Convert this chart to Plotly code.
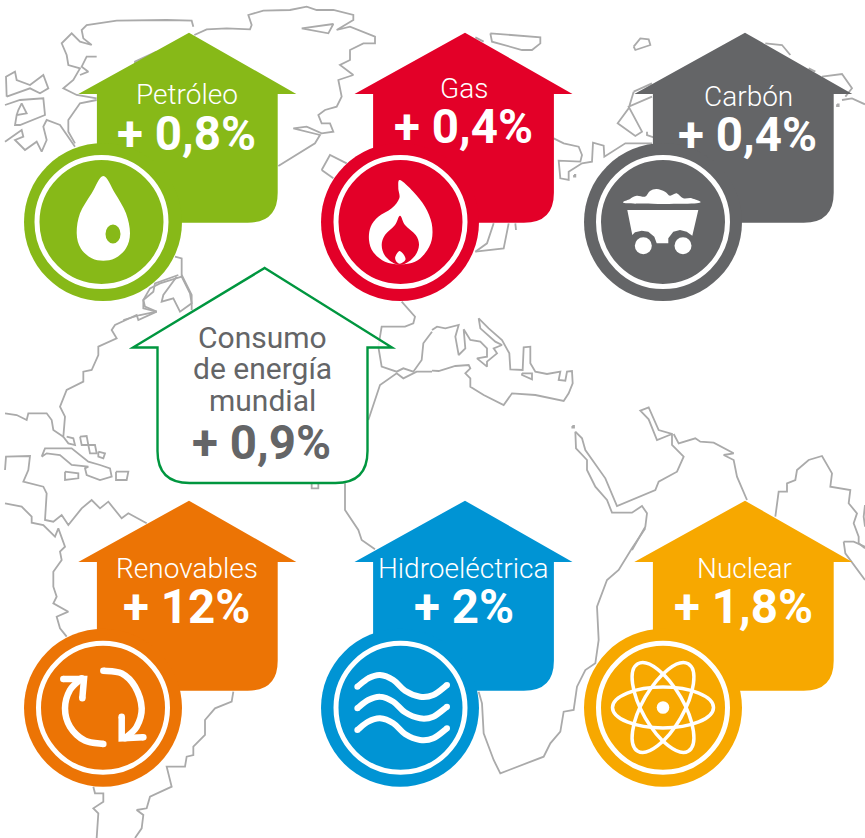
import math
import plotly.graph_objects as go

# ---- chart content ----
categories = ["Petróleo", "Gas", "Carbón", "Renovables", "Hidroeléctrica", "Nuclear"]
value_labels = ["+ 0,8%", "+ 0,4%", "+ 0,4%", "+ 12%", "+ 2%", "+ 1,8%"]
total_title = ["Consumo", "de energía", "mundial"]
total_value = "+ 0,9%"
colors = ["#87b918", "#e30028", "#646567", "#ec7405", "#0094d4", "#f7a800"]

# ---- house layout (page pixels) ----
peak_x = [189, 465, 745, 189, 465, 745]
body_x = [187.3, 463.5, 743.3, 187.3, 463.5, 743.3]
peak_y = [32.7, 32.7, 32.7, 500.7, 500.7, 500.7]
circle_x = [103, 400, 663, 103, 400, 663]
circle_y = [222, 222, 222, 707.8, 707.8, 707.8]
ring_x = [101.5, 400.5, 663, 103, 400.5, 663]
label_pos = [(187, 94), (464, 88), (748, 96), (187, 568), (463, 568), (744, 568)]
value_pos = [(186.5, 134), (463.5, 127), (747, 135), (186, 607), (464, 607), (743, 607)]

# ---- map outlines: (x offset, y offset, 3x-crop points) ----
map_lines = [
 (0, 0, [(583,105),(620,88),(680,85),(750,88),(755,75),(745,45),(790,32),(870,30),(920,20),(950,30),(1000,30),(1060,45),(1060,60),(1010,90),(1050,80),(1090,95),(1125,110),(1125,130),(1090,130),(1050,150),(1050,180),(1020,195),(1060,225),(1015,240),(1025,290),(1010,320),(975,330),(955,345),(965,370),(990,370),(1000,395),(965,400),(920,380),(880,385),(920,395),(960,405),(945,430),(880,470),(835,498)]),
 (0, 0, [(905,85),(1000,72),(985,100),(905,85)]),
 (0, 0, [(580,80),(575,62),(500,60),(350,62),(260,75),(245,90),(250,115),(275,135),(240,125),(215,100),(185,130),(200,165),(205,195),(240,205),(220,240),(190,265),(230,285),(290,295)]),
 (0, 0, [(290,170),(260,170),(245,200),(265,215),(240,225)]),
 (0, 0, [(290,300),(240,310),(205,360),(205,395),(225,430)]),
 (0, 0, [(470,155),(405,185),(405,195)]),
 (0, 0, [(20,290),(18,230),(45,215),(50,240),(90,255),(130,225),(145,265),(120,280),(90,265),(20,290)]),
 (0, 0, [(15,315),(60,300),(130,295),(135,345),(60,375),(45,375),(50,345),(80,340),(65,310),(55,330),(50,345)]),
 (0, 0, [(15,425),(50,400),(65,390),(70,410),(45,420),(75,450),(110,425),(125,455),(140,420),(130,380),(140,360),(180,375),(215,425),(225,440)]),
 (0, 0, [(525,770),(545,775),(545,830),(480,850),(450,865),(430,900),(430,925),(470,935),(420,945),(370,960)]),
 (0, 0, [(530,830),(490,885),(485,905),(520,895),(540,935),(575,910),(570,880),(545,830)]),
 (0, 0, [(965,510),(990,465),(1040,490)]),
 (0, 0, [(965,510),(1000,535)]),
 (0, 260, [(545,45),(575,105),(575,150)]),
 (0, 260, [(535,45),(465,70),(460,95),(430,120),(435,140),(470,155),(415,180),(410,165),(345,195),(335,210),(350,235),(295,260),(295,285),(275,330),(250,335),(250,365),(200,390),(180,440),(195,470),(190,530),(205,550),(225,555),(220,535),(200,530)]),
 (0, 260, [(15,460),(50,465),(80,480),(85,460),(140,460),(155,480),(160,510),(190,530)]),
 (0, 260, [(125,590),(135,565),(215,565),(265,605),(300,615),(330,625),(335,650),(300,660),(260,645),(255,625),(265,620),(215,615),(180,585),(140,580),(125,590)]),
 (0, 260, [(240,530),(260,528),(265,555),(245,555),(240,530)]),
 (0, 260, [(265,555),(285,555),(290,580),(270,580),(265,555)]),
 (0, 260, [(295,575),(315,580),(310,595),(295,590),(295,575)]),
 (0, 260, [(195,635),(235,640),(235,655),(195,660),(195,635)]),
 (0, 260, [(348,635),(385,635),(380,660),(348,660),(348,635)]),
 (0, 260, [(15,630),(18,590),(90,588),(85,630),(70,665),(130,680),(140,700),(135,780),(160,785),(185,765),(205,795),(245,745),(275,720),(300,745),(325,725),(365,775),(385,760),(440,790)]),
 (0, 500, [(15,10),(65,20),(95,50),(95,68),(130,75),(165,110),(175,85),(195,140),(180,155),(185,180),(160,215),(160,260),(170,290),(160,310),(205,335),(170,350),(180,385),(200,410)]),
 (0, 500, [(280,860),(285,880),(310,880),(310,905),(280,925),(295,940),(290,1014)]),
 (0, 500, [(700,575),(695,605),(645,625),(615,660),(615,705),(580,740),(580,765),(560,770),(555,800),(500,800),(515,860),(450,890),(440,925),(410,930),(430,945),(425,985),(405,1014)]),
 (0, 260, [(1035,670),(1035,750),(1075,810),(1085,840),(1125,868)]),
 (0, 260, [(935,670),(935,685),(955,685),(955,670)]),
 (0, 260, [(1205,125),(1245,170),(1240,190),(1215,200),(1145,200),(1135,260),(1145,320),(1190,335),(1210,325),(1240,335),(1265,300),(1270,250),(1296,215)]),
 (0, 260, [(1296,335),(1250,335),(1210,355),(1190,340),(1140,375),(1125,420),(1105,480)]),
 (432, 260, [(0,332),(20,333),(70,318),(110,315),(115,325),(100,340),(115,355),(115,380),(155,405),(215,435),(240,400),(310,405),(395,423),(410,400),(422,370),(420,333),(405,335),(400,362),(380,360),(385,335),(345,342),(310,335),(295,310),(295,260),(275,262),(272,330),(235,328),(232,280),(210,240),(170,205),(140,175),(145,205),(190,245),(210,255),(185,265),(195,280),(165,305),(165,320),(135,295),(165,290),(165,265),(145,245),(115,240),(95,208),(100,265),(80,285),(70,230),(80,195),(40,205),(15,200),(0,210)]),
 (432, 260, [(270,340),(300,340),(300,358),(270,345),(270,340)]),
 (432, 260, [(421,498),(426,498),(426,503),(421,503),(421,498)]),
 (432, 260, [(430,515),(450,535),(460,570),(520,655),(555,738),(620,710),(670,690),(680,665),(735,635),(755,590),(720,555),(720,522),(680,510),(650,442),(625,452),(650,478),(670,525),(675,540),(720,522)]),
 (432, 260, [(725,522),(740,550),(790,535),(805,545),(845,548),(905,580),(875,585),(905,600),(915,650),(945,720)]),
 (432, 260, [(430,515),(432,565),(465,600),(465,630),(490,680),(525,720),(540,758),(600,758),(630,738),(645,760),(640,800),(600,870)]),
 (432, 260, [(1030,770),(1040,695),(1065,695),(1065,670),(1090,660),(1095,630),(1130,600),(1170,588),(1200,640),(1195,680),(1255,690),(1250,730),(1275,760),(1265,790),(1280,830),(1280,850),(1299,865)]),
 (432, 260, [(1299,735),(1295,770),(1299,800)]),
 (432, 500, [(640,85),(600,145),(560,210),(525,240),(495,320),(500,420),(490,490),(460,510),(435,560),(425,630),(395,635),(385,695),(355,730),(335,770),(205,820),(185,780),(155,700),(150,610),(140,575)]),
 (432, 500, [(1235,125),(1265,125),(1299,140)]),
 (432, 500, [(1235,125),(1240,160),(1299,240)]),
 (432, 0, [(175,100),(325,112),(325,130),(300,150),(270,150),(180,125),(175,100)]),
 (432, 0, [(130,112),(155,125)]),
 (432, 0, [(605,140),(625,115),(650,118),(655,135),(610,150),(605,140)]),
 (432, 0, [(1000,130),(1050,135),(1075,165)]),
 (432, 0, [(1130,205),(1150,215)]),
 (432, 0, [(1170,230),(1230,222),(1260,265),(1240,290)]),
 (432, 0, [(1215,313),(1220,313),(1220,318),(1215,318),(1215,313)]),
 (432, 0, [(1230,300),(1260,295),(1299,313)]),
 (432, 0, [(605,275),(660,250)]),
 (432, 0, [(605,275),(590,325),(557,370),(610,408),(630,395),(590,320),(660,290)]),
 (432, 0, [(645,395),(645,405),(665,412)]),
 (432, 0, [(365,415),(395,430),(440,440),(450,465),(445,485),(380,482),(385,535),(410,540),(410,515),(450,490),(480,485),(483,428),(515,437),(517,470),(580,430),(660,430)]),
 (432, 0, [(426,525),(430,525),(430,530),(426,530),(426,525)]),
 (432, 0, [(130,755),(215,745),(230,670)]),
 (432, 0, [(130,755),(165,730),(185,670)]),
 (432, 0, [(250,670),(252,690)]),
]

# ---- icon outlines (3x-crop points) ----
DROP = [(310,528),(345,580),(378,640),(390,700),(378,745),(345,775),(310,782),(275,775),(242,745),(230,700),(240,640),(275,580)]
FLAME_OUT = [(150,45),(190,80),(225,125),(245,175),(245,225),(225,265),(195,290),(150,298),(105,290),(70,262),(57,225),(62,185),(85,155),(125,130),(148,100),(145,70)]
FLAME_IN = [(150,152),(165,180),(197,210),(207,240),(195,272),(165,296),(135,296),(105,272),(95,240),(105,210),(135,180)]
FLAME_SMALL = [(148,258),(162,270),(166,285),(150,296),(138,288),(136,275)]
COAL = [(38,85),(45,72),(65,62),(90,65),(105,48),(125,42),(150,50),(165,62),(185,55),(205,70),(230,70),(245,85)]
CART = [(37,105),(250,105),(232,182),(215,170),(195,165),(175,170),(160,190),(160,205),(125,205),(118,185),(100,170),(80,167),(60,172),(52,180)]
ARC_R = [(310,512),(365,520),(405,560),(425,625),(410,680),(375,715)]
HEAD_R = [(365,650),(365,715),(430,712)]
ARC_L = [(310,732),(255,722),(210,680),(195,625),(210,570),(245,535)]
HEAD_L = [(190,537),(252,537),(247,595)]
WAVE = [(1072,560),(1105,535),(1140,525),(1180,540),(1215,572),(1260,590),(1300,585),(1341,555)]


def crop(pts, ox, oy):
    return [(ox + x / 3, oy + y / 3) for x, y in pts]


def straight(pts, close=False):
    s = "M" + " L".join(f"{x:.1f},{y:.1f}" for x, y in pts)
    return s + (" Z" if close else "")


def smooth(pts, close=True):
    """Catmull-Rom run through the traced points, written as cubic segments."""
    n = len(pts)
    s = f"M{pts[0][0]:.1f},{pts[0][1]:.1f}"
    last = n if close else n - 1
    for i in range(last):
        if close:
            p0, p1, p2, p3 = pts[(i - 1) % n], pts[i], pts[(i + 1) % n], pts[(i + 2) % n]
        else:
            p0, p1, p2, p3 = pts[max(i - 1, 0)], pts[i], pts[i + 1], pts[min(i + 2, n - 1)]
        c1 = (p1[0] + (p2[0] - p0[0]) / 6, p1[1] + (p2[1] - p0[1]) / 6)
        c2 = (p2[0] - (p3[0] - p1[0]) / 6, p2[1] - (p3[1] - p1[1]) / 6)
        s += f" C{c1[0]:.1f},{c1[1]:.1f} {c2[0]:.1f},{c2[1]:.1f} {p2[0]:.1f},{p2[1]:.1f}"
    return s + (" Z" if close else "")


def ellipse(cx, cy, a, b, deg):
    k = 0.5523
    t = math.radians(deg)
    ro = lambda x, y: (cx + x * math.cos(t) - y * math.sin(t), cy + x * math.sin(t) + y * math.cos(t))
    p = [ro(*q) for q in [(a,0),(a,k*b),(k*a,b),(0,b),(-k*a,b),(-a,k*b),(-a,0),(-a,-k*b),(-k*a,-b),(0,-b),(k*a,-b),(a,-k*b),(a,0)]]
    s = f"M{p[0][0]:.1f},{p[0][1]:.1f}"
    for i in range(1, 13, 3):
        s += f" C{p[i][0]:.1f},{p[i][1]:.1f} {p[i+1][0]:.1f},{p[i+1][1]:.1f} {p[i+2][0]:.1f},{p[i+2][1]:.1f}"
    return s + " Z"


def house(px, py, cx, half_eave, half_body, eave_y, bottom, r, full_left=False):
    L, R = cx - half_body, cx + half_body
    s = (f"M{px},{py} L{cx + half_eave},{eave_y} L{R},{eave_y} L{R},{bottom - r} "
         f"Q{R},{bottom} {R - r},{bottom} ")
    if full_left:
        s += f"L{L + r},{bottom} Q{L},{bottom} {L},{bottom - r} "
    else:
        s += f"L{L},{bottom} "
    return s + f"L{L},{eave_y} L{cx - half_eave},{eave_y} Z"


fig = go.Figure()
xs, ys = [], []
for ox, oy, pts in map_lines:
    for x, y in crop(pts, ox, oy):
        xs.append(x)
        ys.append(y)
    xs.append(None)
    ys.append(None)
fig.add_trace(go.Scatter(x=xs, y=ys, mode="lines", hoverinfo="skip", showlegend=False,
                         line=dict(color="#aaaaaa", width=1.8)))

shapes = []


def fill(path, color):
    shapes.append(dict(type="path", path=path, fillcolor=color, line=dict(width=0), layer="above"))


def disc(cx, cy, r, color, line=None, w=0):
    shapes.append(dict(type="circle", x0=cx - r, x1=cx + r, y0=cy - r, y1=cy + r, layer="above",
                       fillcolor=color, line=dict(color=line or color, width=w)))


def stroke(path, color="white", w=6):
    shapes.append(dict(type="path", path=path, line=dict(color=color, width=w),
                       fillcolor="rgba(0,0,0,0)", layer="above"))


def open_line(pts, w, curved=True):
    stroke(smooth(pts, False) if curved else straight(pts), w=w)
    for x, y in (pts[0], pts[-1]):
        disc(x, y, w / 2, "white")


for i in range(6):
    c = colors[i]
    fill(house(peak_x[i], peak_y[i], body_x[i], 109, 90.4, peak_y[i] + 61.2, peak_y[i] + 190, 30), c)
    disc(circle_x[i], circle_y[i], 79, c)
    disc(ring_x[i], circle_y[i], 64.5, "rgba(0,0,0,0)", "white", 5)

# total house
shapes.append(dict(type="path", path=house(264.7, 268, 262.5, 129.5, 105, 347.5, 483, 32, True),
                   fillcolor="rgba(255,255,255,0.85)", line=dict(color="#00963f", width=2.4), layer="above"))

# drop
fill(smooth(crop(DROP, 0, 0)), "white")
disc(113, 234, 8, colors[0])
shapes[-1].update(y0=224.5, y1=243.5, x0=105.5, x1=120.5)
# flame
fill(smooth(crop(FLAME_OUT, 350, 165)), "white")
fill(smooth(crop(FLAME_IN, 350, 165)), colors[1])
fill(smooth(crop(FLAME_SMALL, 350, 165)), "white")
# coal cart
fill(smooth(crop(COAL, 615, 175)), "white")
fill(straight(crop(CART, 615, 175), True), "white")
disc(615 + 85 / 3, 175 + 212 / 3, 8.5, "white")
disc(615 + 204 / 3, 175 + 212 / 3, 8.5, "white")
# recycling arrows
open_line(crop(ARC_R, 0, 500), 6.5)
open_line(crop(HEAD_R, 0, 500), 6.5, False)
open_line(crop(ARC_L, 0, 500), 6.5)
open_line(crop(HEAD_L, 0, 500), 6.5, False)
# waves
for dy in (0, 65, 130):
    open_line(crop([(x, y + dy) for x, y in WAVE], 0, 500), 6)
# atom
for deg in (0, 60, 120):
    stroke(ellipse(663, 707.5, 50.5, 20.5, deg), w=3.5)
disc(663, 707.5, 6.3, "white")

annotations = []


def text(x, y, s, size, color="white", weight=400):
    annotations.append(dict(x=x, y=y, text=s, showarrow=False, xanchor="center", yanchor="middle",
                            font=dict(family="Roboto", size=size, color=color, weight=weight)))


for i in range(6):
    text(label_pos[i][0], label_pos[i][1], categories[i], 28, weight=300)
    text(value_pos[i][0], value_pos[i][1], value_labels[i], 47.5, weight=700)
for y, line in zip((337, 368, 400), total_title):
    text(262, y, line, 30, "#646567", 400)
text(261, 443, total_value, 47.5, "#646567", 700)

fig.update_layout(width=865, height=838, margin=dict(l=0, r=0, t=0, b=0),
                  paper_bgcolor="white", plot_bgcolor="white",
                  xaxis=dict(range=[0, 865], visible=False, fixedrange=True),
                  yaxis=dict(range=[838, 0], visible=False, fixedrange=True),
                  shapes=shapes, annotations=annotations)
fig.write_html("out.html", config={"displayModeBar": False},
               default_width="865px", default_height="838px",
               post_script="document.body.style.margin='0';")
